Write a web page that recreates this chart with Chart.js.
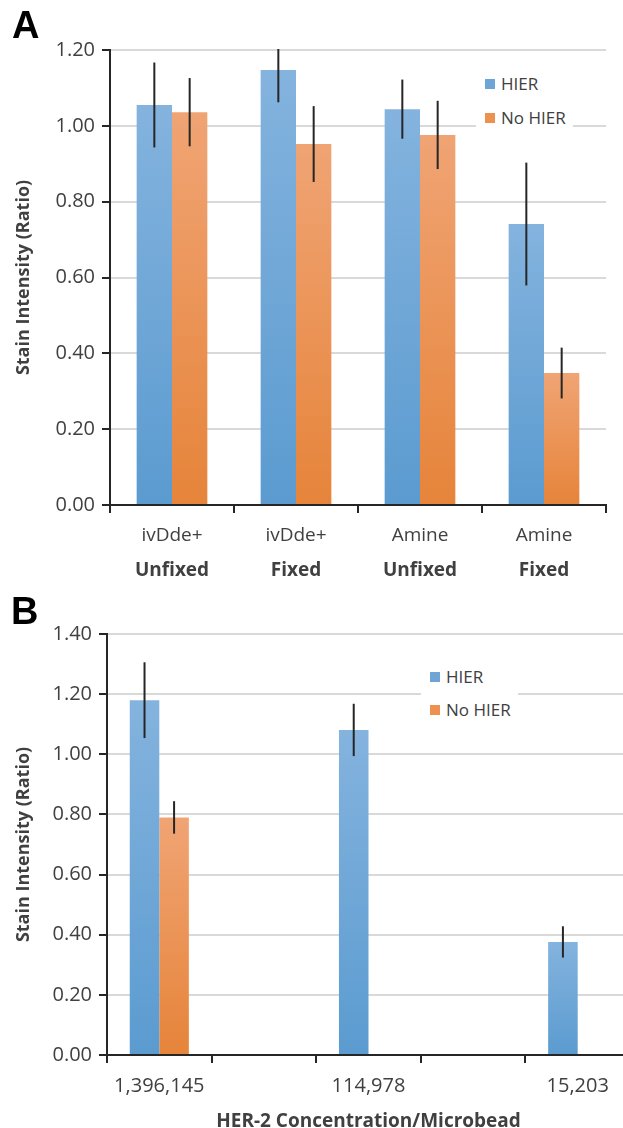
<!DOCTYPE html>
<html>
<head>
<meta charset="utf-8">
<script src="https://cdn.jsdelivr.net/npm/chart.js@4.4.1/dist/chart.umd.min.js"></script>
<style>
  body { margin: 0; width: 623px; height: 1128px; overflow: hidden; position: relative; background: #fff; font-family: "Open Sans", sans-serif; color: #404040; }
  .wrap { position: absolute; left: 0; }
  .letter { position: absolute; font-family: "Liberation Sans", Arial, sans-serif; font-weight: bold; font-size: 38px; line-height: 38px; color: #000; }
  .legend { position: absolute; background: #fff; }
  .legend .item { position: absolute; left: 9px; font-size: 17px; line-height: 20px; white-space: nowrap; }
  .legend .sw { display: inline-block; width: 10px; height: 10px; margin-right: 6px; vertical-align: 1px; }
</style>
</head>
<body>
<div class="wrap" style="top:0;"><canvas id="chartA" width="623" height="600"></canvas></div>
<div class="wrap" style="top:590px;"><canvas id="chartB" width="640" height="543"></canvas></div>

<div class="letter" style="left:12px;top:6px;">A</div>
<div class="letter" style="left:11px;top:592px;">B</div>

<div class="legend" style="left:476px;top:66px;width:97px;height:64px;">
  <div class="item" style="top:8px;"><span class="sw" style="background:#6fa5d6"></span>HIER</div>
  <div class="item" style="top:42px;"><span class="sw" style="background:#ec9150"></span>No HIER</div>
</div>
<div class="legend" style="left:421px;top:660px;width:97px;height:62px;">
  <div class="item" style="top:7px;"><span class="sw" style="background:#6fa5d6"></span>HIER</div>
  <div class="item" style="top:40px;"><span class="sw" style="background:#ec9150"></span>No HIER</div>
</div>

<script>
// panel A
const groupsA = ['ivDde+', 'ivDde+', 'Amine', 'Amine'];
const fixA = ['Unfixed', 'Fixed', 'Unfixed', 'Fixed'];
const hierA = [1.055, 1.147, 1.044, 0.741];
const hierErrA = [0.112, 0.085, 0.078, 0.162];
const noHierA = [1.036, 0.952, 0.976, 0.348];
const noHierErrA = [0.09, 0.10, 0.09, 0.067];

// panel B
const concB = ['1,396,145', '', '114,978', '', '15,203'];
const hierB = [1.18, null, 1.081, null, 0.376];
const hierErrB = [0.126, null, 0.087, null, 0.052];
const noHierB = [0.79, null, null, null, null];
const noHierErrB = [0.054, null, null, null, null];

const TXT = '#404040';
const AXIS = '#262626';
const GRID = '#d9d9d9';

function barFill(top, bottom) {
  return (c) => {
    const chart = c.chart;
    if (!chart.chartArea || c.raw == null || !chart.scales.y) return bottom;
    const y = chart.scales.y;
    const y0 = y.getPixelForValue(0), y1 = y.getPixelForValue(c.raw);
    if (!isFinite(y0) || !isFinite(y1) || y0 === y1) return bottom;
    const g = chart.ctx.createLinearGradient(0, y1, 0, y0);
    g.addColorStop(0, top);
    g.addColorStop(1, bottom);
    return g;
  };
}

const errorBars = {
  id: 'errorBars',
  afterDatasetsDraw(chart) {
    const { ctx, chartArea, scales: { y } } = chart;
    ctx.save();
    ctx.beginPath();
    ctx.rect(chartArea.left, chartArea.top - 1, chartArea.width, chartArea.height + 1);
    ctx.clip();
    ctx.strokeStyle = AXIS;
    ctx.lineWidth = 2;
    chart.data.datasets.forEach((ds, i) => {
      const meta = chart.getDatasetMeta(i);
      meta.data.forEach((bar, j) => {
        const v = ds.data[j], e = ds.errors[j];
        if (v == null || e == null) return;
        ctx.beginPath();
        ctx.moveTo(bar.x, y.getPixelForValue(v + e));
        ctx.lineTo(bar.x, y.getPixelForValue(v - e));
        ctx.stroke();
      });
    });
    ctx.restore();
  }
};

function yAxis(max, width) {
  return {
    min: 0,
    max: max,
    afterFit: (s) => { s.width = width; },
    ticks: {
      stepSize: 0.2,
      padding: 7,
      color: TXT,
      font: { family: 'Open Sans', size: 20 },
      callback: (v) => v.toFixed(2)
    },
    grid: { color: GRID, lineWidth: 2, tickColor: AXIS, tickLength: 8 },
    border: { color: AXIS, width: 2 },
    title: {
      display: true,
      text: 'Stain Intensity (Ratio)',
      color: TXT,
      font: { family: 'Open Sans', size: 18, weight: 'bold' },
      padding: { top: 13, bottom: 0 }
    }
  };
}

function datasets(hier, hierErr, noHier, noHierErr) {
  return [
    { label: 'HIER', data: hier, errors: hierErr, backgroundColor: barFill('#84b3de', '#5b9bd0') },
    { label: 'No HIER', data: noHier, errors: noHierErr, backgroundColor: barFill('#f0a474', '#e6843a') }
  ];
}

Chart.defaults.animation = false;

new Chart(document.getElementById('chartA'), {
  type: 'bar',
  data: { labels: groupsA, datasets: datasets(hierA, hierErrA, noHierA, noHierErrA) },
  options: {
    responsive: false,
    datasets: { bar: { categoryPercentage: 0.57, barPercentage: 1 } },
    layout: { padding: { left: 0, top: 50, right: 17, bottom: 15 } },
    plugins: { legend: { display: false }, tooltip: { enabled: false } },
    scales: {
      x: {
        weight: 0,
        afterFit: (s) => { s.height = 40; },
        ticks: { color: TXT, padding: 11, font: { family: 'Open Sans', size: 19 } },
        grid: { drawOnChartArea: false, tickColor: AXIS, tickLength: 8, lineWidth: 2 },
        border: { color: AXIS, width: 2 }
      },
      x2: {
        type: 'category',
        labels: fixA,
        position: 'bottom',
        offset: true,
        weight: 1,
        afterFit: (s) => { s.height = 40; },
        ticks: { color: TXT, padding: 6, font: { family: 'Open Sans', size: 19, weight: 'bold' } },
        grid: { display: false },
        border: { display: false }
      },
      y: yAxis(1.2, 110)
    }
  },
  plugins: [errorBars]
});

new Chart(document.getElementById('chartB'), {
  type: 'bar',
  data: { labels: concB, datasets: datasets(hierB, hierErrB, noHierB, noHierErrB) },
  options: {
    responsive: false,
    datasets: { bar: { categoryPercentage: 0.565, barPercentage: 1 } },
    layout: { padding: { left: 0, top: 44, right: 10, bottom: 0 } },
    plugins: { legend: { display: false }, tooltip: { enabled: false } },
    scales: {
      x: {
        afterFit: (s) => { s.height = 78; },
        ticks: { color: TXT, padding: 11, font: { family: 'Open Sans', size: 20 } },
        grid: { drawOnChartArea: false, tickColor: AXIS, tickLength: 8, lineWidth: 2 },
        border: { color: AXIS, width: 2 },
        title: {
          display: true,
          text: 'HER-2 Concentration/Microbead',
          color: TXT,
          font: { family: 'Open Sans', size: 19, weight: 'bold' },
          padding: { top: 9, bottom: 0 }
        }
      },
      y: yAxis(1.4, 107)
    }
  },
  plugins: [errorBars]
});
</script>
</body>
</html>
